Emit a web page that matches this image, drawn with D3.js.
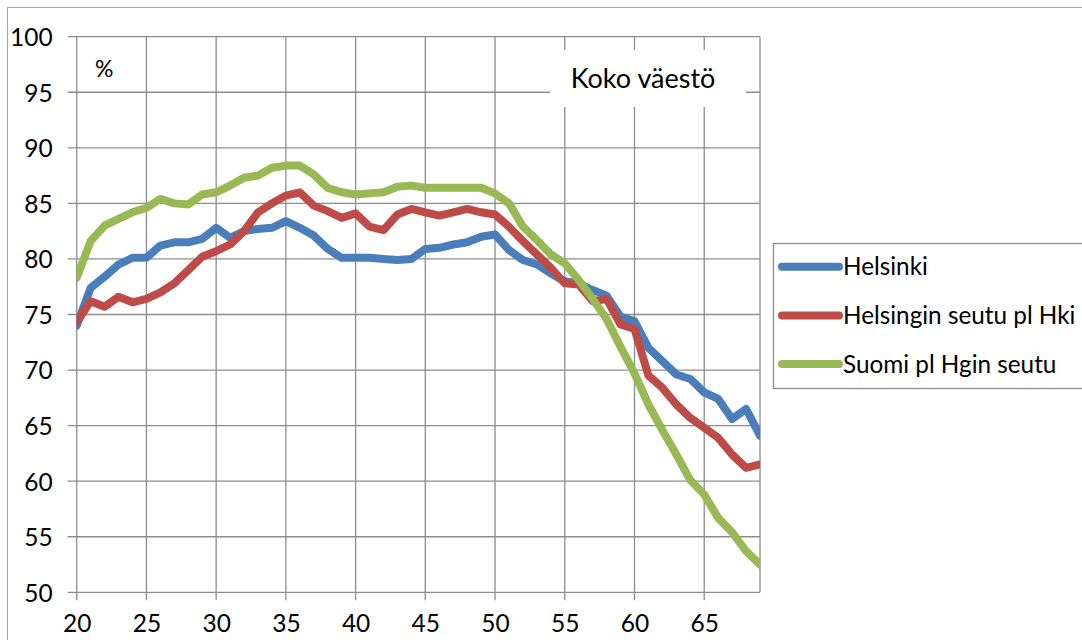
<!DOCTYPE html>
<html>
<head>
<meta charset="utf-8">
<title>Koko väestö</title>
<style>
  body { margin: 0; background: #fff; }
  text { font-family: Lato, "Open Sans", sans-serif; fill: #000; }
  .grid line { stroke: #8c8c8c; stroke-width: 1.3; }
  .serie { fill: none; stroke-width: 8; stroke-linejoin: round; stroke-linecap: round; }
</style>
</head>
<body>
<svg width="1082" height="640"></svg>
<script src="https://cdn.jsdelivr.net/npm/d3@7"></script>
<script>
// ikä 20..69
var ages = d3.range(20, 70);
var xTicks = [20, 25, 30, 35, 40, 45, 50, 55, 60, 65];
var yTicks = [50, 55, 60, 65, 70, 75, 80, 85, 90, 95, 100];

var seriesNames = ["Helsinki", "Helsingin seutu pl Hki", "Suomi pl Hgin seutu"];
var seriesColors = ["#4a7ebb", "#be4b48", "#98b954"];

var helsinki = [74.0, 77.4, 78.4, 79.5, 80.1, 80.1, 81.2, 81.5, 81.5, 81.8,
                82.8, 81.9, 82.5, 82.7, 82.8, 83.4, 82.8, 82.1, 80.9, 80.1,
                80.1, 80.1, 80.0, 79.9, 80.0, 80.9, 81.0, 81.3, 81.5, 82.0,
                82.2, 80.8, 79.9, 79.5, 78.7, 78.0, 77.8, 77.2, 76.7, 74.8,
                74.4, 72.0, 70.8, 69.6, 69.2, 68.0, 67.4, 65.6, 66.5, 64.1];
var seutu =    [74.3, 76.2, 75.7, 76.6, 76.1, 76.4, 77.0, 77.8, 79.0, 80.2,
                80.7, 81.3, 82.5, 84.2, 85.0, 85.7, 86.0, 84.8, 84.3, 83.7,
                84.1, 82.9, 82.6, 84.0, 84.5, 84.2, 83.9, 84.2, 84.5, 84.2,
                84.0, 82.9, 81.6, 80.4, 79.2, 77.8, 77.7, 76.2, 76.4, 74.1,
                73.7, 69.5, 68.4, 66.9, 65.7, 64.8, 63.9, 62.4, 61.2, 61.5];
var suomi =    [78.3, 81.6, 83.0, 83.6, 84.2, 84.6, 85.4, 85.0, 84.9, 85.8,
                86.0, 86.6, 87.3, 87.5, 88.2, 88.4, 88.4, 87.6, 86.4, 86.0,
                85.8, 85.9, 86.0, 86.5, 86.6, 86.4, 86.4, 86.4, 86.4, 86.4,
                85.9, 85.0, 82.9, 81.7, 80.4, 79.6, 78.1, 76.4, 74.6, 72.1,
                69.7, 66.9, 64.6, 62.4, 60.1, 58.8, 56.7, 55.4, 53.7, 52.5];

var svg = d3.select("svg");

// ulkoreunus
svg.append("rect")
    .attr("x", 7.5).attr("y", 7.5)
    .attr("width", 1100).attr("height", 700)
    .attr("fill", "#fff")
    .attr("stroke", "#a6a6a6");

var plotLeft = 76.7, plotRight = 760, plotTop = 36.7, plotBottom = 592.3;

var x = d3.scaleLinear().domain([20, 69]).range([plotLeft, plotRight]);
var y = d3.scaleLinear().domain([50, 100]).range([plotBottom, plotTop]);

var grid = svg.append("g").attr("class", "grid");

grid.selectAll(".h")
    .data(yTicks)
  .enter().append("line")
    .attr("x1", plotLeft - 9).attr("x2", plotRight)
    .attr("y1", function(d) { return y(d); })
    .attr("y2", function(d) { return y(d); });

grid.selectAll(".v")
    .data(xTicks)
  .enter().append("line")
    .attr("x1", function(d) { return x(d); })
    .attr("x2", function(d) { return x(d); })
    .attr("y1", plotTop).attr("y2", plotBottom + 8);

grid.append("line")
    .attr("x1", plotRight).attr("x2", plotRight)
    .attr("y1", plotTop).attr("y2", plotBottom);

// akselien tekstit
var yAxis = d3.axisLeft(y).tickValues(yTicks).tickSize(0).tickPadding(0);
svg.append("g")
    .attr("transform", "translate(" + (plotLeft - 24) + ",0)")
    .call(yAxis)
    .call(function(g) { g.select(".domain").remove(); })
    .selectAll("text")
    .attr("dy", "0.36em")
    .style("font-size", "24.5px")
    .style("font-family", "Lato, sans-serif")
    .attr("fill", "#000");

var xAxis = d3.axisBottom(x).tickValues(xTicks).tickSize(0).tickPadding(0);
svg.append("g")
    .attr("transform", "translate(0," + (plotBottom + 22) + ")")
    .call(xAxis)
    .call(function(g) { g.select(".domain").remove(); })
    .selectAll("text")
    .attr("dy", "0.71em")
    .style("font-size", "24.5px")
    .style("font-family", "Lato, sans-serif")
    .attr("fill", "#000");

svg.append("text")
    .attr("x", 95).attr("y", 77)
    .style("font-size", "23px")
    .text("%");

// otsikkolaatikko
svg.append("rect")
    .attr("x", 550).attr("y", 50)
    .attr("width", 196).attr("height", 57)
    .attr("fill", "#fff");
svg.append("text")
    .attr("x", 643).attr("y", 88)
    .attr("text-anchor", "middle")
    .style("font-size", "27px")
    .text("Koko väestö");

svg.append("clipPath").attr("id", "plot")
  .append("rect")
    .attr("x", plotLeft).attr("y", 0)
    .attr("width", plotRight - plotLeft).attr("height", 640);

var line = d3.line()
    .x(function(d, i) { return x(ages[i]); })
    .y(function(d) { return y(d); });

svg.append("g")
    .attr("clip-path", "url(#plot)")
  .selectAll("path")
    .data([helsinki, seutu, suomi])
  .enter().append("path")
    .attr("class", "serie")
    .attr("stroke", function(d, i) { return seriesColors[i]; })
    .attr("d", line);

// selite
var legend = svg.append("g");
legend.append("rect")
    .attr("x", 773.5).attr("y", 243.5)
    .attr("width", 330).attr("height", 145)
    .attr("fill", "#fff")
    .attr("stroke", "#8c8c8c")
    .attr("stroke-width", 1.3);

var item = legend.selectAll(".item")
    .data(seriesNames)
  .enter().append("g")
    .attr("transform", function(d, i) { return "translate(0," + (266.7 + i * 48.7) + ")"; });

item.append("line")
    .attr("x1", 782).attr("x2", 839)
    .attr("stroke", function(d, i) { return seriesColors[i]; })
    .attr("stroke-width", 8)
    .attr("stroke-linecap", "round");

item.append("text")
    .attr("x", 843).attr("dy", "0.36em")
    .style("font-size", "24.3px")
    .text(function(d) { return d; });
</script>
</body>
</html>
